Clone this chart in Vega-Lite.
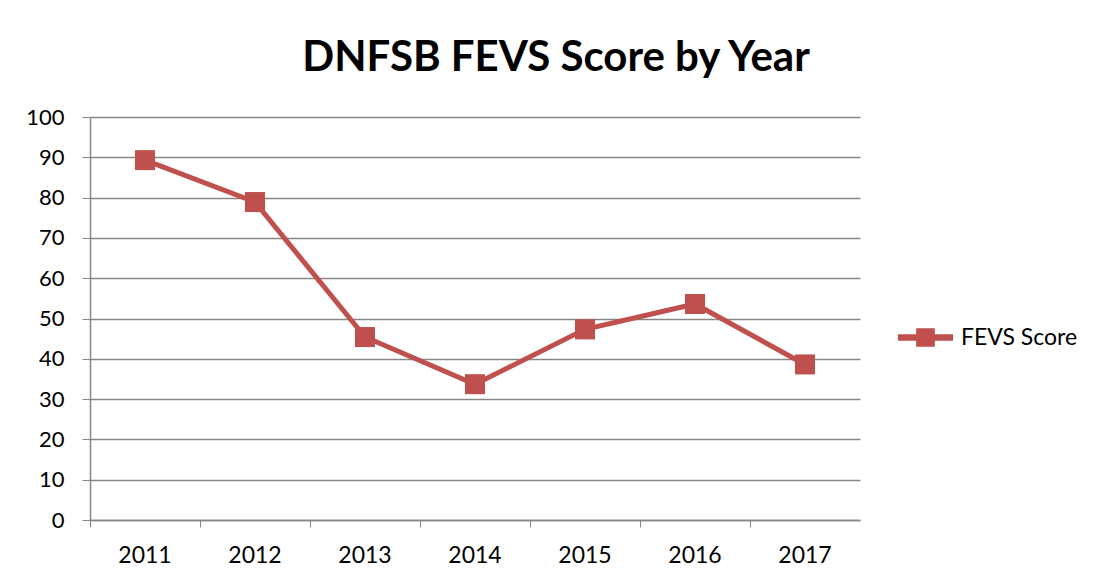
{
  "$schema": "https://vega.github.io/schema/vega-lite/v6.json",
  "autosize": {"type": "none"},
  "width": 770,
  "height": 403,
  "padding": {"left": 90, "top": 117, "right": 235, "bottom": 65},
  "background": "white",
  "title": {
    "text": "DNFSB FEVS Score by Year",
    "font": "Lato",
    "fontSize": 42,
    "fontWeight": "bold",
    "color": "#000000",
    "anchor": "middle",
    "dx": 81,
    "offset": 26
  },
  "data": {
    "values": [
      {"year": "2011", "score": 89.3, "series": "FEVS Score"},
      {"year": "2012", "score": 78.9, "series": "FEVS Score"},
      {"year": "2013", "score": 45.4, "series": "FEVS Score"},
      {"year": "2014", "score": 33.7, "series": "FEVS Score"},
      {"year": "2015", "score": 47.3, "series": "FEVS Score"},
      {"year": "2016", "score": 53.6, "series": "FEVS Score"},
      {"year": "2017", "score": 38.6, "series": "FEVS Score"}
    ]
  },
  "encoding": {
    "x": {
      "field": "year",
      "type": "ordinal",
      "scale": {"type": "band", "paddingInner": 0, "paddingOuter": 0},
      "axis": {
        "title": null,
        "labelAngle": 0,
        "bandPosition": 0,
        "labelFont": "Lato",
        "labelFontSize": 23,
        "labelColor": "#000000",
        "labelPadding": 17,
        "tickSize": 7,
        "tickColor": "#868686",
        "domainColor": "#868686",
        "domainWidth": 1.5,
        "grid": false
      }
    },
    "y": {
      "field": "score",
      "type": "quantitative",
      "scale": {"domain": [0, 100], "nice": false},
      "axis": {
        "title": null,
        "values": [0, 10, 20, 30, 40, 50, 60, 70, 80, 90, 100],
        "labelFont": "Lato",
        "labelFontSize": 22,
        "labelColor": "#000000",
        "labelPadding": 18,
        "tickSize": 8,
        "tickColor": "#868686",
        "domainColor": "#868686",
        "domainWidth": 1.5,
        "grid": true,
        "gridColor": "#868686",
        "gridWidth": 1.4
      }
    },
    "color": {
      "field": "series",
      "type": "nominal",
      "scale": {"range": ["#C0504D"]},
      "legend": {
        "title": null,
        "orient": "none",
        "legendX": 808,
        "legendY": 193,
        "labelFont": "Lato",
        "labelFontSize": 23,
        "labelColor": "#000000",
        "symbolType": "M-1,-0.12H1V0.12H-1Z M-0.34,-0.34H0.34V0.34H-0.34Z",
        "symbolSize": 3025,
        "symbolStrokeWidth": 0,
        "symbolFillColor": "#C0504D",
        "labelOffset": 8
      }
    }
  },
  "layer": [
    {"mark": {"type": "line", "strokeWidth": 5}},
    {"mark": {"type": "point", "shape": "square", "filled": true, "size": 400, "opacity": 1}}
  ],
  "config": {"view": {"stroke": null}}
}
